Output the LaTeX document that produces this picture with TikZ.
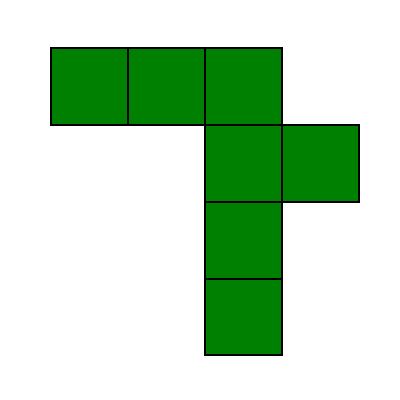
\documentclass[tikz,border=0pt]{standalone}
\definecolor{sqgreen}{HTML}{008000}
\tikzset{sq/.style={fill=sqgreen,draw=black,line width=0.012cm}}
\begin{document}
\begin{tikzpicture}[x=0.01cm,y=-0.01cm]
\useasboundingbox (0,0) rectangle (400,400);
\path[sq] (51,48) rectangle (128,125);
\path[sq] (128,48) rectangle (205,125);
\path[sq] (205,48) rectangle (282,125);
\path[sq] (205,125) rectangle (282,202);
\path[sq] (282,125) rectangle (359,202);
\path[sq] (205,202) rectangle (282,279);
\path[sq] (205,279) rectangle (282,355);
\end{tikzpicture}
\end{document}
